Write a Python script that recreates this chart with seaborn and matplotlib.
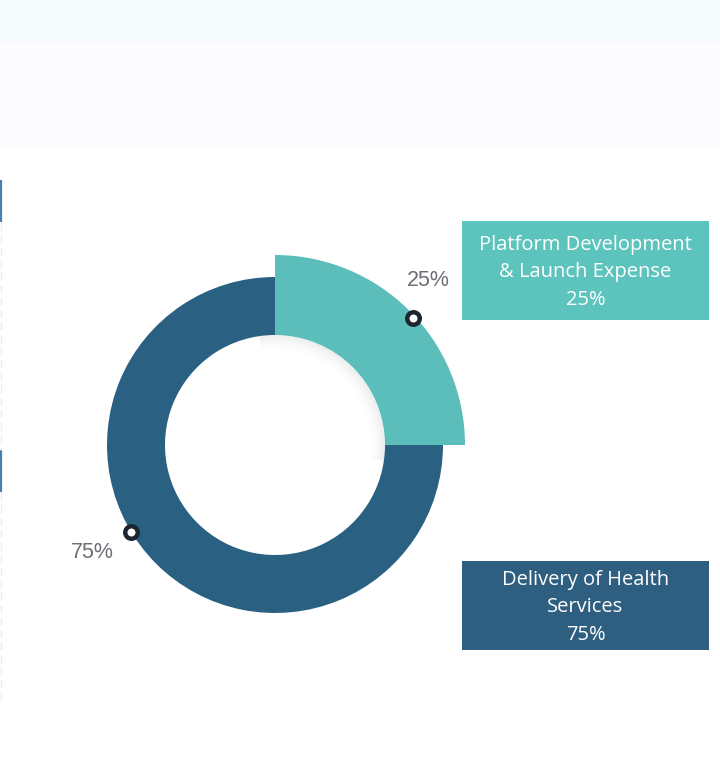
import matplotlib
matplotlib.use("Agg")
import matplotlib.pyplot as plt
import seaborn as sns
import numpy as np
from matplotlib.patches import Rectangle, Wedge

sns.set_theme(style="white")
plt.rcParams['font.family'] = ['Open Sans', 'DejaVu Sans']

# ---- data ----
categories = ["Platform Development & Launch Expense", "Delivery of Health Services"]
box_labels = ["Platform Development\n& Launch Expense\n25%", "Delivery of Health\nServices\n75%"]
values = [25, 75]
pct_labels = ["25%", "75%"]
slice_colors = ["#5bbeba", "#2a6082"]
box_colors = ["#5cc4bc", "#2f5f80"]

W, H = 720, 774
fig = plt.figure(figsize=(W / 100, H / 100), dpi=100)
ax = fig.add_axes([0, 0, 1, 1])
ax.set_xlim(0, W)
ax.set_ylim(0, H)
ax.set_aspect("equal")
ax.axis("off")

def iy(y):  # image y -> data y
    return H - y

# background bands
ax.add_patch(Rectangle((0, iy(42)), W, 42, color="#f5fafd", lw=0, zorder=0))
ax.add_patch(Rectangle((0, iy(148)), W, 106, color="#fcfbfe", lw=0, zorder=0))

# left decorations
ax.plot([1, 1], [iy(180), iy(222)], color="#4a7fb2", lw=1.6, solid_capstyle="butt")
ax.plot([1, 1], [iy(450), iy(492)], color="#4a7fb2", lw=1.6, solid_capstyle="butt")
ax.plot([1, 1], [iy(222), iy(450)], color="#ececec", lw=1, ls=(0, (6, 3)))
ax.plot([1, 1], [iy(492), iy(700)], color="#ececec", lw=1, ls=(0, (6, 3)))

cx, cy = 275, iy(445)
r_out, r_in = 168, 110
wedges, _ = ax.pie(values, colors=slice_colors, startangle=90, counterclock=False,
                   radius=r_out, center=(cx, cy),
                   wedgeprops=dict(width=r_out - r_in, linewidth=0), frame=True)
ax.set_xlim(0, W)
ax.set_ylim(0, H)
ax.axis("off")
# enlarged first slice
wedges[0].set_radius(190)
wedges[0].set_width(190 - r_in)
wedges[0].set_zorder(3)
wedges[1].set_zorder(2)

# soft shadow inside the hole below the enlarged slice
for k in range(16):
    ax.add_patch(Wedge((cx, cy), r_in - k, -8, 98, width=1.2,
                       color="#6f7785", alpha=0.11 * (1 - k / 16) ** 2, lw=0, zorder=1))

# marker rings and percent labels
marker_angles = [42.6, 211]
marker_radii = [188, 168]
label_pos = [(428, 280), (92, 552)]
for ang, rr, lab, (lx, ly) in zip(marker_angles, marker_radii, pct_labels, label_pos):
    a = np.deg2rad(ang)
    ax.plot(cx + rr * np.cos(a), cy + rr * np.sin(a), marker="o", ms=9, mew=3.2,
            mfc="white", mec="#1d2630", zorder=5)
    ax.text(lx, iy(ly), lab, ha="center", va="center", fontsize=15.5,
            color="#6b6e73", family=["Liberation Sans", "DejaVu Sans"], zorder=5)

# label boxes
boxes = [(462, 221, 247, 99), (462, 561, 247, 89)]
for (bx, by, bw, bh), col, txt in zip(boxes, box_colors, box_labels):
    ax.add_patch(Rectangle((bx, iy(by + bh)), bw, bh, color=col, lw=0, zorder=4))
    ax.text(bx + bw / 2, iy(by + bh / 2) - 2, txt, ha="center", va="center",
            fontsize=14.5, color="white", linespacing=1.5, zorder=5)

fig.savefig("out.png", dpi=100)
